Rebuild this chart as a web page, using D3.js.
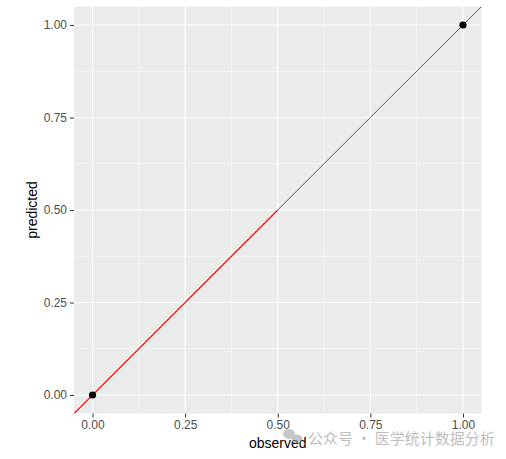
<!DOCTYPE html>
<html lang="en">
<head>
<meta charset="utf-8">
<title>calibration</title>
<script src="https://cdn.jsdelivr.net/npm/d3@7"></script>
<style>
  body { margin: 0; background: #fff; }
  text { font-family: "Liberation Sans", Arial, sans-serif; }
</style>
</head>
<body>
<svg id="chart" width="506" height="459"></svg>
<script>
// points (observed vs predicted)
var observed = [0, 1];
var predicted = [0, 1];
// red part of the diagonal runs up to here, black after
var fitEnd = 0.5;
var majorTicks = [0, 0.25, 0.5, 0.75, 1];
var minorTicks = [0.125, 0.375, 0.625, 0.875];

var svg = d3.select("#chart");
var pLeft = 74, pRight = 481.5, pTop = 6.5, pBottom = 413.5;

var x = d3.scaleLinear().domain([-0.05, 1.05]).range([pLeft, pRight]);
var y = d3.scaleLinear().domain([-0.05, 1.05]).range([pBottom, pTop]);

svg.append("defs").append("clipPath").attr("id", "clip")
  .append("rect").attr("x", pLeft).attr("y", pTop)
  .attr("width", pRight - pLeft).attr("height", pBottom - pTop);

svg.append("rect")
  .attr("x", pLeft).attr("y", pTop)
  .attr("width", pRight - pLeft).attr("height", pBottom - pTop)
  .attr("fill", "#ebebeb");

var grid = svg.append("g");
minorTicks.forEach(function(t) {
  grid.append("line").attr("x1", x(t)).attr("x2", x(t)).attr("y1", pTop).attr("y2", pBottom)
    .attr("stroke", "#fff").attr("stroke-width", 0.55);
  grid.append("line").attr("y1", y(t)).attr("y2", y(t)).attr("x1", pLeft).attr("x2", pRight)
    .attr("stroke", "#fff").attr("stroke-width", 0.55);
});
majorTicks.forEach(function(t) {
  grid.append("line").attr("x1", x(t)).attr("x2", x(t)).attr("y1", pTop).attr("y2", pBottom)
    .attr("stroke", "#fff").attr("stroke-width", 1.1);
  grid.append("line").attr("y1", y(t)).attr("y2", y(t)).attr("x1", pLeft).attr("x2", pRight)
    .attr("stroke", "#fff").attr("stroke-width", 1.1);
});

var plot = svg.append("g").attr("clip-path", "url(#clip)");

// black upper part of the diagonal
plot.append("line")
  .attr("x1", x(fitEnd)).attr("y1", y(fitEnd))
  .attr("x2", x(1.05)).attr("y2", y(1.05))
  .attr("stroke", "#000").attr("stroke-width", 0.6);

// red lower part
plot.append("line")
  .attr("x1", x(-0.05)).attr("y1", y(-0.05))
  .attr("x2", x(fitEnd)).attr("y2", y(fitEnd))
  .attr("stroke", "#ff0000").attr("stroke-width", 1.1);

plot.selectAll("circle").data(observed).enter()
  .append("circle")
  .attr("cx", function(d) { return x(d); })
  .attr("cy", function(d, i) { return y(predicted[i]); })
  .attr("r", 3.6)
  .attr("fill", "#000");

var xAxis = d3.axisBottom(x).tickValues(majorTicks).tickFormat(d3.format(".2f"))
  .tickSizeInner(4).tickSizeOuter(0).tickPadding(3);
var yAxis = d3.axisLeft(y).tickValues(majorTicks).tickFormat(d3.format(".2f"))
  .tickSizeInner(4).tickSizeOuter(0).tickPadding(3);

var gx = svg.append("g").attr("transform", "translate(0," + pBottom + ")").call(xAxis);
var gy = svg.append("g").attr("transform", "translate(" + pLeft + ",0)").call(yAxis);
[gx, gy].forEach(function(g) {
  g.select(".domain").remove();
  g.selectAll(".tick line").attr("stroke", "#333").attr("stroke-width", 1);
  g.selectAll(".tick text").attr("fill", "#4d4d4d")
    .style("font-size", "12px").style("font-family", "Liberation Sans, Arial, sans-serif");
});

svg.append("text")
  .attr("x", (pLeft + pRight) / 2).attr("y", 448)
  .attr("text-anchor", "middle")
  .style("font-size", "14px")
  .text("observed");

svg.append("text")
  .attr("transform", "translate(37," + ((pTop + pBottom) / 2) + ") rotate(-90)")
  .attr("text-anchor", "middle")
  .style("font-size", "14px")
  .text("predicted");

// watermark
var wm = svg.append("g").attr("opacity", 0.55);
wm.append("ellipse").attr("cx", 289).attr("cy", 434).attr("rx", 6).attr("ry", 5).attr("fill", "#9a9a9a");
wm.append("ellipse").attr("cx", 297).attr("cy", 439).attr("rx", 5.5).attr("ry", 4.5).attr("fill", "#9a9a9a");
wm.append("text")
  .attr("x", 308).attr("y", 444)
  .attr("fill", "#8a8a8a")
  .style("font-family", "Noto Sans CJK SC, sans-serif")
  .style("font-size", "15px")
  .text("公众号 · 医学统计数据分析");
</script>
</body>
</html>
